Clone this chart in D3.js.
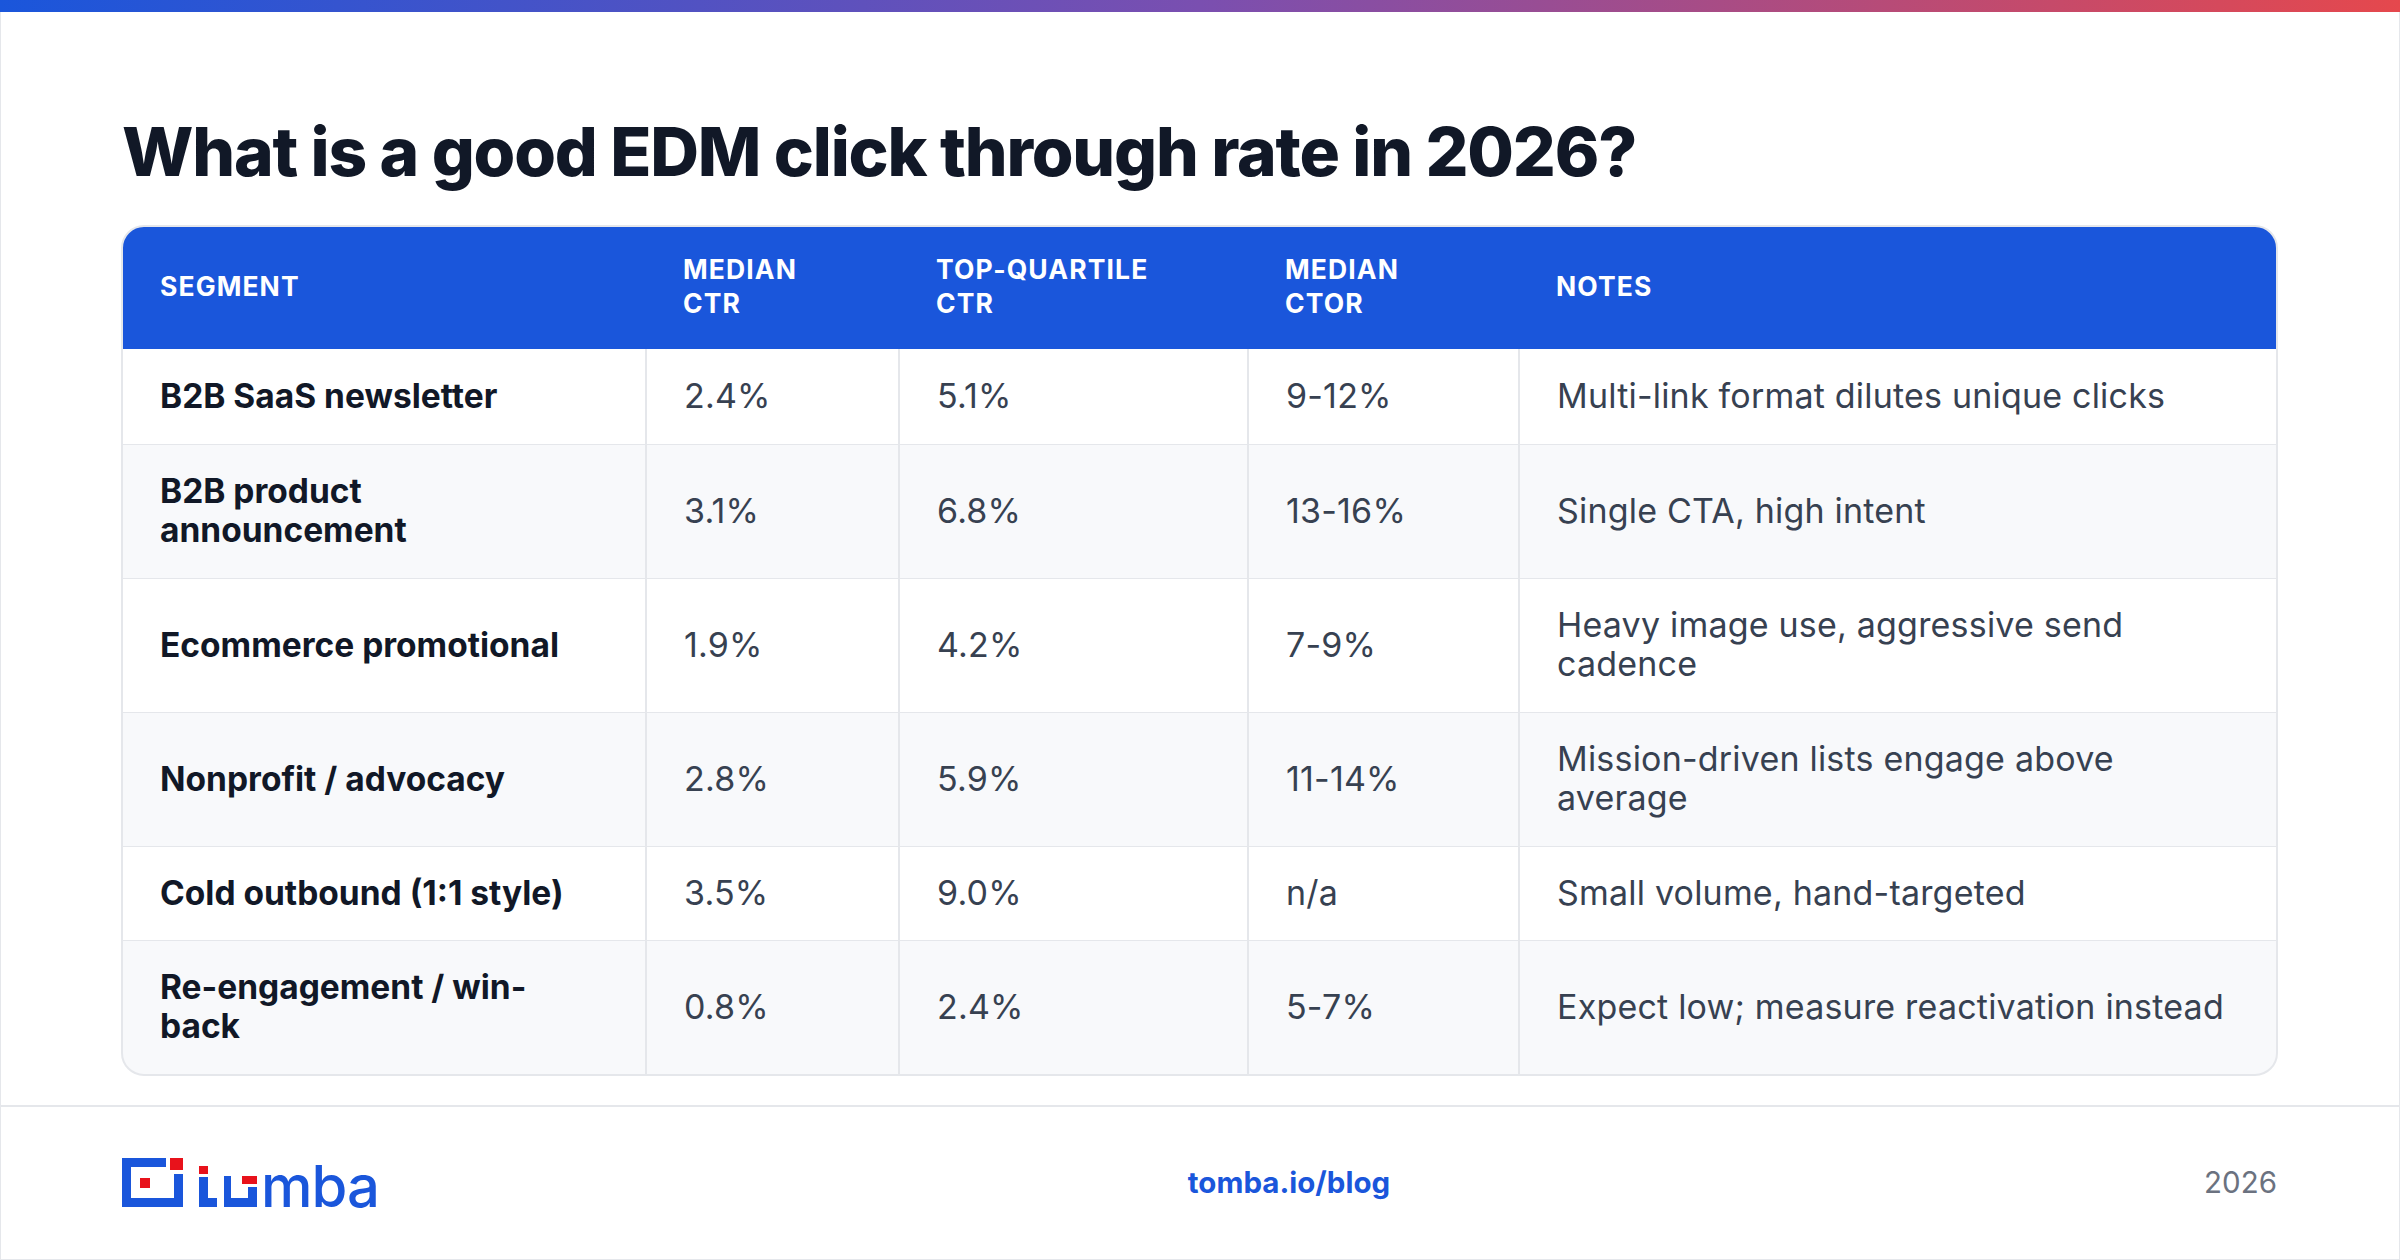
<!DOCTYPE html>
<html><head><meta charset="utf-8">
<script src="https://cdn.jsdelivr.net/npm/d3@7"></script>
<style>body{margin:0;background:#fff}svg{display:block}</style>
</head><body><div id="chart"></div>
<script>
const columns = ["SEGMENT", "MEDIAN\nCTR", "TOP-QUARTILE\nCTR", "MEDIAN\nCTOR", "NOTES"];
const segments = ["B2B SaaS newsletter", "B2B product\nannouncement", "Ecommerce promotional", "Nonprofit / advocacy", "Cold outbound (1:1 style)", "Re-engagement / win-\nback"];
const medianCtr = ["2.4%", "3.1%", "1.9%", "2.8%", "3.5%", "0.8%"];
const topQuartileCtr = ["5.1%", "6.8%", "4.2%", "5.9%", "9.0%", "2.4%"];
const medianCtor = ["9-12%", "13-16%", "7-9%", "11-14%", "n/a", "5-7%"];
const notes = ["Multi-link format dilutes unique clicks", "Single CTA, high intent", "Heavy image use, aggressive send\ncadence", "Mission-driven lists engage above\naverage", "Small volume, hand-targeted", "Expect low; measure reactivation instead"];

const W = 2400, H = 1260, font = "Inter, 'Noto Sans', sans-serif";
const svg = d3.select("#chart").append("svg").attr("width", W).attr("height", H);

const grad = svg.append("defs").append("linearGradient").attr("id", "g");
grad.append("stop").attr("offset", "0%").attr("stop-color", "#1a56db");
grad.append("stop").attr("offset", "50%").attr("stop-color", "#7a4fb0");
grad.append("stop").attr("offset", "100%").attr("stop-color", "#e5484d");
svg.append("rect").attr("x", 0.5).attr("y", 0.5).attr("width", W - 1).attr("height", H - 1).attr("fill", "#fff").attr("stroke", "#e5e7eb");
svg.append("rect").attr("width", W).attr("height", 12).attr("fill", "url(#g)");

svg.append("text").attr("x", 122).attr("y", 176).attr("font-family", font).attr("font-weight", 800)
  .attr("font-size", 67.5).attr("fill", "#111827").attr("letter-spacing", -1.2).text("What is a good EDM click through rate in 2026?");

// table geometry
const colEdges = [122, 646, 899, 1248, 1519, 2277];
const rowEdges = [226, 349, 445, 579, 713, 847, 941, 1075];
const tL = colEdges[0], tR = colEdges[5], tT = rowEdges[0], tB = rowEdges[7];

svg.append("clipPath").attr("id", "c").append("rect").attr("x", tL).attr("y", tT).attr("width", tR - tL).attr("height", tB - tT).attr("rx", 22);
const t = svg.append("g").attr("clip-path", "url(#c)");
t.append("rect").attr("x", tL).attr("y", tT).attr("width", tR - tL).attr("height", rowEdges[1] - tT).attr("fill", "#1a56db");
segments.forEach((s, i) => {
  t.append("rect").attr("x", tL).attr("y", rowEdges[i + 1]).attr("width", tR - tL).attr("height", rowEdges[i + 2] - rowEdges[i + 1])
    .attr("fill", i % 2 ? "#f8f9fb" : "#fff");
  t.append("line").attr("x1", tL).attr("x2", tR).attr("y1", rowEdges[i + 2]).attr("y2", rowEdges[i + 2]).attr("stroke", "#e5e7eb").attr("stroke-width", 2);
});
colEdges.slice(1, 5).forEach(x => t.append("line").attr("x1", x).attr("x2", x).attr("y1", rowEdges[1]).attr("y2", tB).attr("stroke", "#e5e7eb").attr("stroke-width", 2));
svg.append("rect").attr("x", tL).attr("y", tT).attr("width", tR - tL).attr("height", tB - tT).attr("rx", 22).attr("fill", "none").attr("stroke", "#e5e7eb").attr("stroke-width", 2);

function multi(x, yc, str, size, lh, attrs) {
  const lines = str.split("\n");
  const el = svg.append("text").attr("font-family", font).attr("font-size", size);
  Object.entries(attrs).forEach(([k, v]) => el.attr(k, v));
  lines.forEach((l, j) => el.append("tspan").attr("x", x).attr("y", yc + (j - (lines.length - 1) / 2) * lh).attr("dy", "0.35em").text(l));
}
const tx = colEdges.slice(0, 5).map((x, i) => x + (i === 0 ? 38 : 37));
columns.forEach((c, i) => multi(tx[i], (rowEdges[0] + rowEdges[1]) / 2 - 1, c, 26.5, 34, {"font-weight": 700, fill: "#fff", "letter-spacing": 1.1}));
segments.forEach((s, i) => {
  const yc = (rowEdges[i + 1] + rowEdges[i + 2]) / 2 - 1;
  multi(tx[0], yc, s, 33.5, 39, {"font-weight": 700, fill: "#111827"});
  [medianCtr[i], topQuartileCtr[i], medianCtor[i], notes[i]].forEach((v, k) =>
    multi(tx[k + 1] + 1, yc, v, 34, 39, {"font-weight": 400, fill: "#374151", "letter-spacing": 0.2}));
});

// footer
svg.append("line").attr("x1", 0).attr("x2", W).attr("y1", 1106).attr("y2", 1106).attr("stroke", "#e5e7eb").attr("stroke-width", 2);
const lg = svg.append("g").attr("transform", "translate(122,1158)");
const blue = "#1a56db", red = "#e8121b";
lg.append("path").attr("d", "M0,0H44V9H9V40H52V16H61V49H0Z").attr("fill", blue);
lg.append("rect").attr("x", 48).attr("y", 0).attr("width", 13).attr("height", 12).attr("fill", red);
lg.append("rect").attr("x", 18).attr("y", 20).attr("width", 10).attr("height", 10).attr("fill", red);
lg.append("rect").attr("x", 77).attr("y", 8).attr("width", 9).attr("height", 8).attr("fill", red);
lg.append("path").attr("d", "M77,19H86V40H95V49H77Z").attr("fill", blue);
lg.append("path").attr("d", "M102,18H109V40H126V29H135V49H102Z").attr("fill", blue);
lg.append("rect").attr("x", 120).attr("y", 18).attr("width", 15).attr("height", 8).attr("fill", red);
lg.append("text").attr("x", 139).attr("y", 49).attr("font-family", font).attr("font-weight", 500)
  .attr("font-size", 58).attr("fill", blue).attr("letter-spacing", -1).text("mba");

svg.append("text").attr("x", 1289).attr("y", 1183).attr("dy", "0.35em").attr("text-anchor", "middle").attr("font-family", font)
  .attr("font-weight", 700).attr("font-size", 29.5).attr("fill", blue).text("tomba.io/blog");
svg.append("text").attr("x", 2277).attr("y", 1183).attr("dy", "0.35em").attr("text-anchor", "end").attr("font-family", font)
  .attr("font-size", 29.5).attr("fill", "#6b7280").text("2026");
</script></body></html>
